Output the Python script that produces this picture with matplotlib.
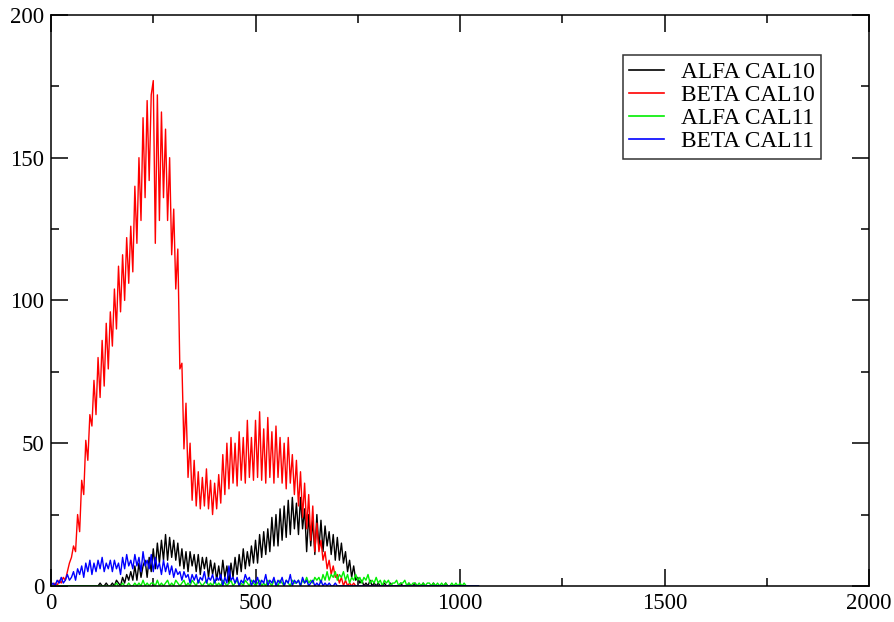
import numpy as np
import matplotlib
matplotlib.use("Agg")
import matplotlib.pyplot as plt
from matplotlib.ticker import MultipleLocator

# channel grid (every 5 channels), counts
channels = np.arange(0, 1050, 5)

alfa_cal10 = [
    0, 0, 0, 0, 0, 0, 0, 0, 0, 0,
    0, 0, 0, 0, 0, 0, 0, 0, 0, 0,
    0, 0, 0, 0, 1, 0, 0, 1, 0, 0,
    1, 0, 2, 1, 0, 3, 1, 4, 2, 5,
    2, 7, 2, 8, 3, 7, 9, 3, 10, 5,
    13, 6, 15, 8, 16, 9, 18, 9, 17, 10,
    16, 9, 15, 7, 13, 6, 12, 5, 12, 7,
    11, 5, 11, 4, 10, 6, 10, 3, 9, 4,
    8, 2, 7, 2, 9, 3, 7, 1, 8, 3,
    10, 4, 11, 5, 13, 6, 12, 7, 14, 8,
    16, 8, 18, 10, 19, 11, 20, 12, 24, 14,
    25, 14, 27, 16, 28, 17, 30, 18, 31, 20,
    29, 18, 31, 20, 27, 12, 25, 14, 23, 11,
    25, 13, 23, 12, 21, 14, 19, 11, 18, 9,
    17, 9, 15, 8, 12, 5, 9, 3, 7, 2,
    3, 1, 2, 0, 1, 0, 2, 0, 1, 0,
    1, 0, 0, 1, 0, 0, 1, 0, 0, 0,
    0, 1, 0, 0, 0, 1, 0, 0, 1, 0,
    0, 0, 1, 0, 0, 0, 0, 1, 0, 0,
    0, 0, 0, 1, 0, 0, 0, 0, 0, 0,
    0, 0, 0, 0, 0, 0, 0, 0, 0, 0,
]

beta_cal10 = [
    0, 0, 1, 0, 2, 1, 3, 2, 5, 8,
    10, 14, 12, 25, 19, 37, 32, 51, 44, 60,
    56, 72, 60, 80, 66, 86, 70, 92, 76, 96,
    84, 104, 90, 112, 96, 116, 100, 122, 106, 126,
    110, 140, 120, 150, 128, 164, 136, 170, 142, 172,
    177, 120, 172, 128, 166, 136, 160, 128, 150, 116,
    132, 104, 118, 76, 78, 48, 64, 38, 50, 30,
    44, 28, 40, 27, 38, 28, 41, 27, 37, 25,
    36, 27, 39, 29, 46, 32, 50, 34, 52, 36,
    50, 35, 54, 37, 52, 36, 58, 38, 52, 37,
    58, 38, 61, 37, 55, 36, 59, 38, 54, 36,
    56, 38, 52, 36, 50, 34, 52, 36, 46, 32,
    44, 28, 40, 24, 36, 20, 32, 16, 28, 12,
    22, 12, 16, 9, 12, 6, 9, 4, 7, 3,
    4, 1, 3, 0, 2, 0, 1, 0, 1, 0,
    0, 0, 0, 0, 0, 0, 0, 0, 0, 0,
    0, 0, 0, 0, 0, 0, 0, 0, 0, 0,
    0, 0, 0, 0, 0, 0, 0, 0, 0, 0,
    0, 0, 0, 0, 0, 0, 0, 0, 0, 0,
    0, 0, 0, 0, 0, 0, 0, 0, 0, 0,
    0, 0, 0, 0, 0, 0, 0, 0, 0, 0,
]

alfa_cal11 = [
    0, 0, 0, 0, 0, 0, 0, 0, 0, 0,
    0, 0, 0, 0, 0, 0, 0, 0, 0, 0,
    0, 0, 0, 0, 0, 0, 0, 0, 0, 0,
    0, 0, 1, 0, 0, 1, 0, 0, 1, 0,
    0, 1, 0, 1, 0, 2, 0, 1, 0, 1,
    1, 0, 2, 0, 1, 0, 1, 2, 0, 1,
    0, 2, 1, 0, 1, 2, 0, 1, 0, 2,
    1, 0, 2, 1, 0, 1, 2, 0, 1, 0,
    2, 0, 1, 0, 2, 1, 0, 1, 2, 0,
    1, 2, 0, 1, 0, 2, 1, 0, 2, 1,
    0, 1, 2, 0, 1, 0, 2, 1, 0, 2,
    1, 0, 2, 1, 0, 2, 1, 0, 2, 1,
    1, 2, 0, 2, 1, 3, 1, 2, 1, 3,
    2, 3, 1, 4, 2, 5, 2, 4, 3, 5,
    2, 4, 3, 5, 2, 4, 1, 3, 2, 4,
    2, 3, 1, 3, 2, 4, 1, 2, 1, 3,
    1, 2, 0, 2, 1, 2, 0, 1, 1, 2,
    0, 1, 1, 2, 0, 1, 0, 1, 1, 0,
    1, 0, 1, 0, 1, 1, 0, 1, 0, 1,
    0, 1, 0, 1, 0, 0, 1, 0, 1, 0,
    1, 0, 1, 0, 0, 0, 0, 0, 0, 0,
]

beta_cal11 = [
    0, 1, 0, 2, 1, 3, 1, 2, 4, 2,
    3, 5, 2, 6, 4, 7, 3, 8, 5, 9,
    4, 8, 5, 9, 6, 10, 5, 8, 6, 9,
    5, 9, 6, 8, 4, 10, 6, 11, 7, 9,
    6, 11, 7, 10, 5, 12, 7, 9, 6, 11,
    5, 10, 6, 8, 4, 9, 5, 8, 4, 7,
    3, 6, 4, 5, 2, 5, 3, 4, 1, 4,
    2, 4, 1, 3, 2, 5, 1, 3, 2, 4,
    1, 3, 2, 4, 0, 3, 1, 7, 2, 3,
    1, 3, 0, 2, 1, 4, 2, 3, 0, 2,
    1, 3, 0, 2, 1, 4, 0, 2, 1, 3,
    0, 2, 1, 3, 0, 2, 1, 4, 0, 2,
    1, 2, 0, 3, 1, 2, 0, 1, 2, 0,
    1, 0, 2, 0, 1, 0, 1, 0, 0, 1,
    0, 0, 0, 0, 0, 0, 0, 0, 0, 0,
    0, 0, 0, 0, 0, 0, 0, 0, 0, 0,
    0, 0, 0, 0, 0, 0, 0, 0, 0, 0,
    0, 0, 0, 0, 0, 0, 0, 0, 0, 0,
    0, 0, 0, 0, 0, 0, 0, 0, 0, 0,
    0, 0, 0, 0, 0, 0, 0, 0, 0, 0,
    0, 0, 0, 0, 0, 0, 0, 0, 0, 0,
]

labels = ["ALFA CAL10", "BETA CAL10", "ALFA CAL11", "BETA CAL11"]
colors = ["black", "red", "#00ee00", "blue"]

plt.rcParams["font.family"] = ["Liberation Serif", "DejaVu Serif"]

fig = plt.figure(figsize=(8.95, 6.22), dpi=100)
ax = fig.add_axes([0.057, 0.058, 0.914, 0.918])

for ys, lab, col in zip([alfa_cal10, beta_cal10, alfa_cal11, beta_cal11], labels, colors):
    ax.plot(channels, ys, color=col, lw=1.0, label=lab)

ax.set_xlim(0, 2000)
ax.set_ylim(0, 200)
ax.xaxis.set_major_locator(MultipleLocator(500))
ax.xaxis.set_minor_locator(MultipleLocator(250))
ax.yaxis.set_major_locator(MultipleLocator(50))
ax.yaxis.set_minor_locator(MultipleLocator(25))
ax.tick_params(which="both", direction="in", top=True, right=True, width=1.1, labelsize=16.5)
ax.tick_params(which="major", length=12, pad=5)
ax.tick_params(which="minor", length=6)
for sp in ax.spines.values():
    sp.set_linewidth(1.1)

leg = ax.legend(loc="upper left", bbox_to_anchor=(0.699, 0.93), fontsize=16.8,
                frameon=True, fancybox=False, edgecolor="black", handlelength=1.5,
                handletextpad=0.7, labelspacing=0.08, borderpad=0.28, borderaxespad=0)
leg.get_frame().set_linewidth(1.1)
for line in leg.get_lines():
    line.set_linewidth(1.2)

fig.savefig("out.png", dpi=100)
